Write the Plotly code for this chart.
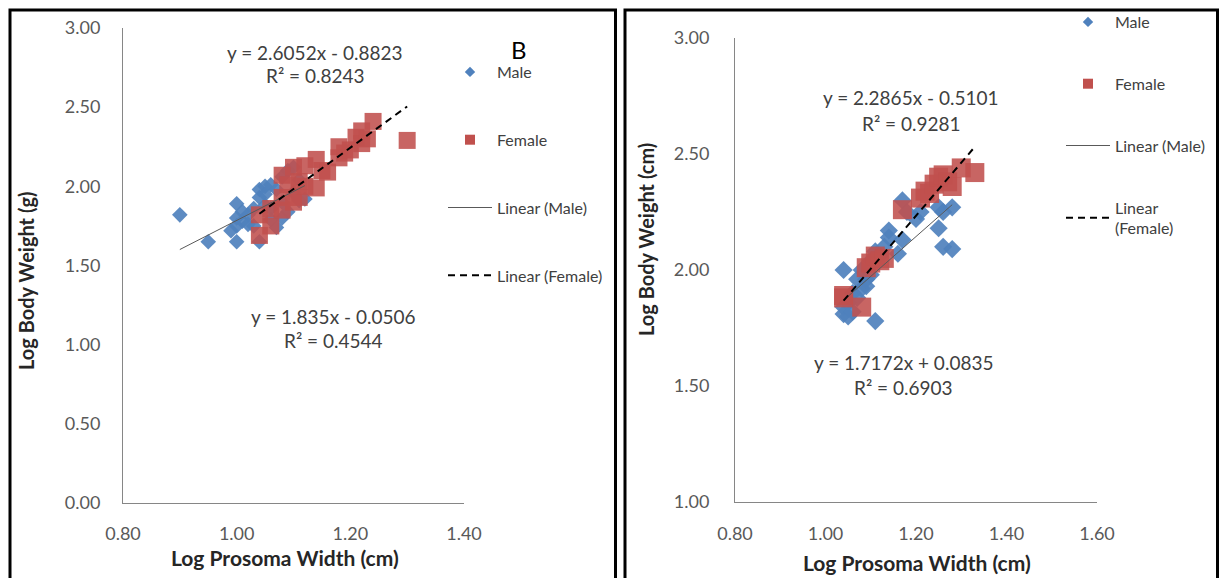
import plotly.graph_objects as go
import numpy as np

W, H = 1221, 578

# ---------------- data: panel A (left) ----------------
left_male_x = [0.90, 0.95, 0.99, 1.00, 1.00, 1.00, 1.00, 1.01, 1.01, 1.02, 1.02, 1.03, 1.03,
               1.04, 1.04, 1.04, 1.05, 1.05, 1.05, 1.06, 1.06, 1.06, 1.07, 1.07, 1.08, 1.08,
               1.08, 1.09, 1.09, 1.10, 1.10, 1.11, 1.11, 1.12]
left_male_y = [1.82, 1.65, 1.72, 1.89, 1.80, 1.65, 1.75, 1.84, 1.78, 1.82, 1.76, 1.75, 1.86,
               1.65, 1.93, 1.98, 1.88, 2.00, 1.95, 2.01, 1.86, 1.79, 1.98, 1.74, 1.80, 1.90,
               2.06, 2.10, 1.84, 2.12, 1.96, 1.91, 2.04, 1.92]
left_female_x = [1.04, 1.04, 1.06, 1.06, 1.08, 1.08, 1.08, 1.09, 1.10, 1.10, 1.11, 1.11, 1.12,
                 1.12, 1.14, 1.14, 1.15, 1.16, 1.18, 1.18, 1.19, 1.20, 1.21, 1.22, 1.22, 1.23,
                 1.24, 1.30]
left_female_y = [1.69, 1.82, 1.75, 1.86, 2.07, 1.93, 1.85, 2.01, 2.12, 1.90, 1.93, 2.03, 2.13,
                 2.00, 2.17, 1.99, 2.10, 2.09, 2.25, 2.18, 2.21, 2.23, 2.31, 2.35, 2.27, 2.30,
                 2.41, 2.29]
left_male_fit = [1.835, -0.0506]      # slope, intercept
left_female_fit = [2.6052, -0.8823]
left_male_eq = ["y = 1.835x - 0.0506", "R² = 0.4544"]
left_female_eq = ["y = 2.6052x - 0.8823", "R² = 0.8243"]

# ---------------- data: right panel ----------------
right_male_x = [1.04, 1.04, 1.04, 1.05, 1.05, 1.06, 1.06, 1.07, 1.07, 1.08, 1.08, 1.09, 1.09,
                1.10, 1.10, 1.11, 1.11, 1.12, 1.13, 1.14, 1.14, 1.16, 1.17, 1.17, 1.18, 1.20,
                1.21, 1.25, 1.25, 1.26, 1.26, 1.28, 1.28]
right_male_y = [2.00, 1.81, 1.84, 1.80, 1.86, 1.90, 1.82, 1.96, 1.88, 1.92, 2.00, 1.93, 1.96,
                2.04, 1.98, 2.08, 1.78, 2.06, 2.10, 2.17, 2.14, 2.07, 2.13, 2.30, 2.25, 2.22,
                2.25, 2.27, 2.18, 2.10, 2.25, 2.27, 2.09]
right_female_x = [1.04, 1.04, 1.08, 1.09, 1.10, 1.11, 1.12, 1.13, 1.17, 1.21, 1.22, 1.23, 1.24,
                  1.25, 1.26, 1.27, 1.28, 1.30, 1.33]
right_female_y = [1.88, 1.89, 1.84, 2.01, 2.03, 2.06, 2.04, 2.05, 2.26, 2.31, 2.34, 2.33, 2.37,
                  2.40, 2.41, 2.38, 2.36, 2.44, 2.42]
right_male_fit = [1.7172, 0.0835]
right_female_fit = [2.2865, -0.5101]
right_male_eq = ["y = 1.7172x + 0.0835", "R² = 0.6903"]
right_female_eq = ["y = 2.2865x - 0.5101", "R² = 0.9281"]

left_xticks = [0.80, 1.00, 1.20, 1.40]
left_yticks = [0.00, 0.50, 1.00, 1.50, 2.00, 2.50, 3.00]
right_xticks = [0.80, 1.00, 1.20, 1.40, 1.60]
right_yticks = [1.00, 1.50, 2.00, 2.50, 3.00]

BLUE = "#4F81BD"
RED = "#C0504D"
FONT = "Lato"
TICKC = "#595959"
TXT = "#404040"
MALE_LINE = dict(color="#595959", width=1)
FEMALE_LINE = dict(color="#000000", width=2, dash="7px,5px")


def px_x(p):
    return p / W


def px_y(p):
    return 1 - p / H


def fit_line(xs, coef):
    xl = np.array([min(xs), max(xs)])
    return xl, coef[0] * xl + coef[1]


fig = go.Figure()


def add_panel(mx, my, fx, fy, mfit, ffit, xa, ya, leg, dsize, ssize):
    fig.add_trace(go.Scatter(x=mx, y=my, mode="markers", name="Male", xaxis=xa, yaxis=ya,
                             showlegend=False,
                             marker=dict(symbol="diamond", size=dsize, color=BLUE, opacity=0.92,
                                         line=dict(width=0))))
    fig.add_trace(go.Scatter(x=fx, y=fy, mode="markers", name="Female", xaxis=xa, yaxis=ya,
                             showlegend=False,
                             marker=dict(symbol="square", size=ssize, color=RED, opacity=0.88,
                                         line=dict(width=0))))
    lx, ly = fit_line(mx, mfit)
    fig.add_trace(go.Scatter(x=lx, y=ly, mode="lines", name="Linear (Male)", xaxis=xa, yaxis=ya,
                             showlegend=False, line=MALE_LINE))
    lx, ly = fit_line(fx, ffit)
    fig.add_trace(go.Scatter(x=lx, y=ly, mode="lines", name="Linear (Female)", xaxis=xa, yaxis=ya,
                             showlegend=False, line=FEMALE_LINE))
    # legend entries (no data of their own)
    fname = "Linear (Female)" if leg == "legend" else "Linear<br>(Female)"
    entries = [
        ("Male", dict(mode="markers", marker=dict(symbol="diamond", size=8, color=BLUE))),
        ("Female", dict(mode="markers", marker=dict(symbol="square", size=10, color=RED))),
        ("Linear (Male)", dict(mode="lines", line=MALE_LINE)),
        (fname, dict(mode="lines", line=FEMALE_LINE)),
    ]
    for i, (nm, kw) in enumerate(entries):
        fig.add_trace(go.Scatter(x=[None], y=[None], name=nm, xaxis=xa, yaxis=ya,
                                 legend=leg, legendgroup=leg + str(i), showlegend=True, **kw))


add_panel(left_male_x, left_male_y, left_female_x, left_female_y,
          left_male_fit, left_female_fit, "x", "y", "legend", 12, 17)
add_panel(right_male_x, right_male_y, right_female_x, right_female_y,
          right_male_fit, right_female_fit, "x2", "y2", "legend2", 14, 19)

axis_common = dict(showline=True, linecolor="#868686", linewidth=1, showgrid=False,
                   zeroline=False, ticks="", tickformat=".2f",
                   tickfont=dict(family=FONT, size=18, color=TICKC))

fig.update_layout(
    width=W, height=H,
    margin=dict(l=0, r=0, t=0, b=0, autoexpand=False),
    paper_bgcolor="white", plot_bgcolor="white",
    showlegend=True,
    xaxis=dict(domain=[px_x(123), px_x(464)], range=[0.8, 1.4], tickvals=left_xticks,
               anchor="y", ticklabelstandoff=14, **axis_common),
    yaxis=dict(domain=[px_y(503), px_y(28)], range=[0, 3], tickvals=left_yticks,
               anchor="x", ticklabelstandoff=18, **axis_common),
    xaxis2=dict(domain=[px_x(735), px_x(1097)], range=[0.8, 1.6], tickvals=right_xticks,
                anchor="y2", ticklabelstandoff=15, **axis_common),
    yaxis2=dict(domain=[px_y(502), px_y(38)], range=[1, 3], tickvals=right_yticks,
                anchor="x2", ticklabelstandoff=21, **axis_common),
    legend=dict(x=px_x(443), y=px_y(55), xanchor="left", yanchor="top",
                bgcolor="rgba(0,0,0,0)", font=dict(family=FONT, size=16, color=TXT),
                tracegroupgap=44, itemsizing="trace", traceorder="grouped", itemwidth=44),
    legend2=dict(x=px_x(1061), y=px_y(5), xanchor="left", yanchor="top",
                 bgcolor="rgba(0,0,0,0)", font=dict(family=FONT, size=16, color=TXT),
                 tracegroupgap=38, itemsizing="trace", traceorder="grouped", itemwidth=44),
)

ann = []


def text(x, y, s, size=19, color=TXT, angle=0):
    ann.append(dict(x=px_x(x), y=px_y(y), xref="paper", yref="paper", text=s,
                    showarrow=False, xanchor="center", yanchor="middle", textangle=angle,
                    font=dict(family=FONT, size=size, color=color)))


text(315, 52, left_female_eq[0])
text(315, 75, left_female_eq[1])
text(333, 316, left_male_eq[0])
text(333, 340, left_male_eq[1])
text(519, 50, "B", size=24, color="#000000")
text(911, 98, right_female_eq[0])
text(911, 124, right_female_eq[1])
text(903, 362, right_male_eq[0])
text(903, 387, right_male_eq[1])

text(26, 281, "<b>Log Body Weight (g)</b>", size=20, color="#262626", angle=-90)
text(285, 557, "<b>Log Prosoma Width (cm)</b>", size=21, color="#262626")
text(646, 240, "<b>Log Body Weight (cm)</b>", size=20, color="#262626", angle=-90)
text(917, 562, "<b>Log Prosoma Width (cm)</b>", size=21, color="#262626")

fig.update_layout(annotations=ann)

# panel borders
shapes = []
for (x0, x1) in [(10, 615.5), (625, 1217.5)]:
    shapes.append(dict(type="rect", xref="paper", yref="paper",
                       x0=px_x(x0), x1=px_x(x1), y0=-0.05, y1=px_y(10),
                       line=dict(color="black", width=3), fillcolor="rgba(0,0,0,0)"))
fig.update_layout(shapes=shapes)

fig.write_html("out.html")
